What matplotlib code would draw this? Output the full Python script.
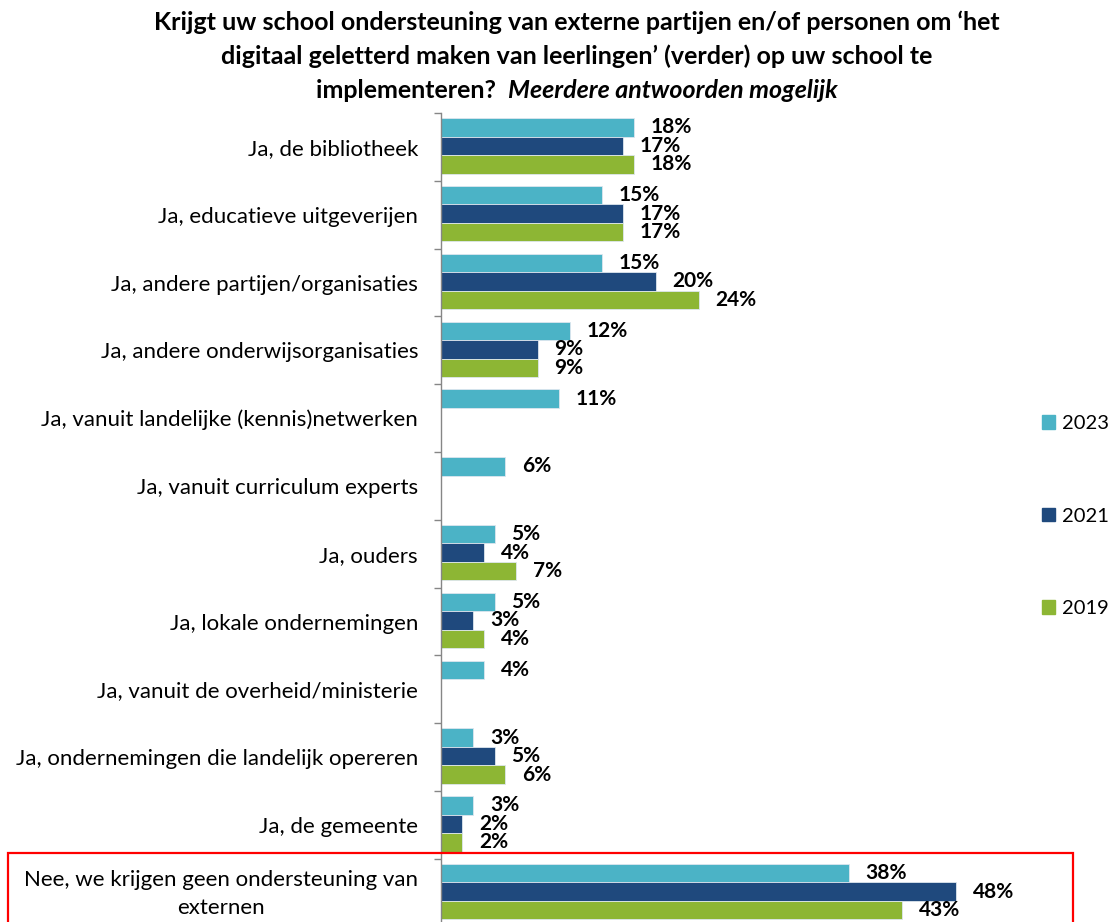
import matplotlib.pyplot as plt
from matplotlib.patches import Patch, Rectangle
from matplotlib.transforms import ScaledTranslation
import numpy as np

plt.rcParams["font.family"] = ["Lato", "DejaVu Sans"]

categories = [
    "Ja, de bibliotheek",
    "Ja, educatieve uitgeverijen",
    "Ja, andere partijen/organisaties",
    "Ja, andere onderwijsorganisaties",
    "Ja, vanuit landelijke (kennis)netwerken",
    "Ja, vanuit curriculum experts",
    "Ja, ouders",
    "Ja, lokale ondernemingen",
    "Ja, vanuit de overheid/ministerie",
    "Ja, ondernemingen die landelijk opereren",
    "Ja, de gemeente",
    "Nee, we krijgen geen ondersteuning van\nexternen",
]
series_names = ["2023", "2021", "2019"]
v2023 = [18, 15, 15, 12, 11, 6, 5, 5, 4, 3, 3, 38]
v2021 = [17, 17, 20, 9, None, None, 4, 3, None, 5, 2, 48]
v2019 = [18, 17, 24, 9, None, None, 7, 4, None, 6, 2, 43]
colors = ["#4BB3C6", "#1F497D", "#8DB634"]

W, H = 1115, 922
fig = plt.figure(figsize=(W / 100, H / 100), dpi=100)

# axes placed in pixel terms; bottom of the plot runs off the figure
ax_left, ax_right = 441, 441 + 50 * 10.73
ax_top, ax_bottom = 113, 113 + 12 * 67.8
ax = fig.add_axes((ax_left / W, 1 - ax_bottom / H,
                   (ax_right - ax_left) / W, (ax_bottom - ax_top) / H))

y = np.arange(len(categories))
bar_h = 0.272
offsets = [-bar_h, 0, bar_h]
for vals, off, col, name in zip([v2023, v2021, v2019], offsets, colors, series_names):
    for i, v in enumerate(vals):
        if v is None:
            continue
        ax.barh(y[i] + off - 0.015, v, height=bar_h, color=col,
                edgecolor="#dde6ee", linewidth=0.6)
        ax.annotate(f"{v}%", (v, y[i] + off - 0.015), xytext=(12, 0),
                    textcoords="offset points", va="center", ha="left",
                    fontsize=15, fontweight="bold", color="black")

ax.set_xlim(0, 50)
ax.set_ylim(len(categories) - 0.5, -0.5)
ax.set_xticks([])
ax.set_yticks(np.arange(len(categories) + 1) - 0.5)
ax.set_yticklabels([])
ax.set_yticks(y, minor=True)
ax.set_yticklabels(categories, minor=True, fontsize=16,
                   multialignment="center", linespacing=1.55)
ax.tick_params(axis="y", which="major", length=5, color="#868686", width=1)
ax.tick_params(axis="y", which="minor", length=0, pad=16.5)
for s in ["top", "right", "bottom"]:
    ax.spines[s].set_visible(False)
ax.spines["left"].set_color("#868686")
ax.spines["left"].set_linewidth(1)

# nudge the two-line label up a little, like the original
last_lbl = ax.get_yticklabels(minor=True)[-1]
last_lbl.set_transform(last_lbl.get_transform()
                       + ScaledTranslation(0, 5 / 100, fig.dpi_scale_trans))

# legend
handles = [Patch(color=c) for c in colors]
fig.legend(handles, series_names, loc="center left",
           bbox_to_anchor=(1042 / W, 1 - 516 / H), frameon=False,
           fontsize=14.5, handlelength=0.65, handleheight=0.65,
           handletextpad=0.35, labelspacing=3.75, borderpad=0,
           borderaxespad=0)

# title
cx = 577 / W
title_kw = dict(fontsize=18, fontweight="bold", ha="center", va="center")
fig.text(cx, 1 - 22 / H,
         "Krijgt uw school ondersteuning van externe partijen en/of personen om \u2018het",
         **title_kw)
fig.text(cx, 1 - 56 / H,
         "digitaal geletterd maken van leerlingen\u2019 (verder) op uw school te",
         **title_kw)
t1 = fig.text(0, 1 - 90 / H, "implementeren?  ", fontsize=18, fontweight="bold",
              ha="left", va="center")
t2 = fig.text(0, 1 - 90 / H, "Meerdere antwoorden mogelijk", fontsize=18,
              fontweight="bold", fontstyle="italic", ha="left", va="center")
r = fig.canvas.get_renderer()
w1 = t1.get_window_extent(r).width / W
w2 = t2.get_window_extent(r).width / W
x0 = cx - (w1 + w2) / 2
t1.set_x(x0)
t2.set_x(x0 + w1)

# red frame around the last category
fig.patches.append(Rectangle((8 / W, -0.05), (1073 - 8) / W, 0.05 + 1 - 853 / H,
                             transform=fig.transFigure, fill=False,
                             edgecolor="#FF0000", linewidth=1.6))

fig.savefig("out.png", dpi=100)
